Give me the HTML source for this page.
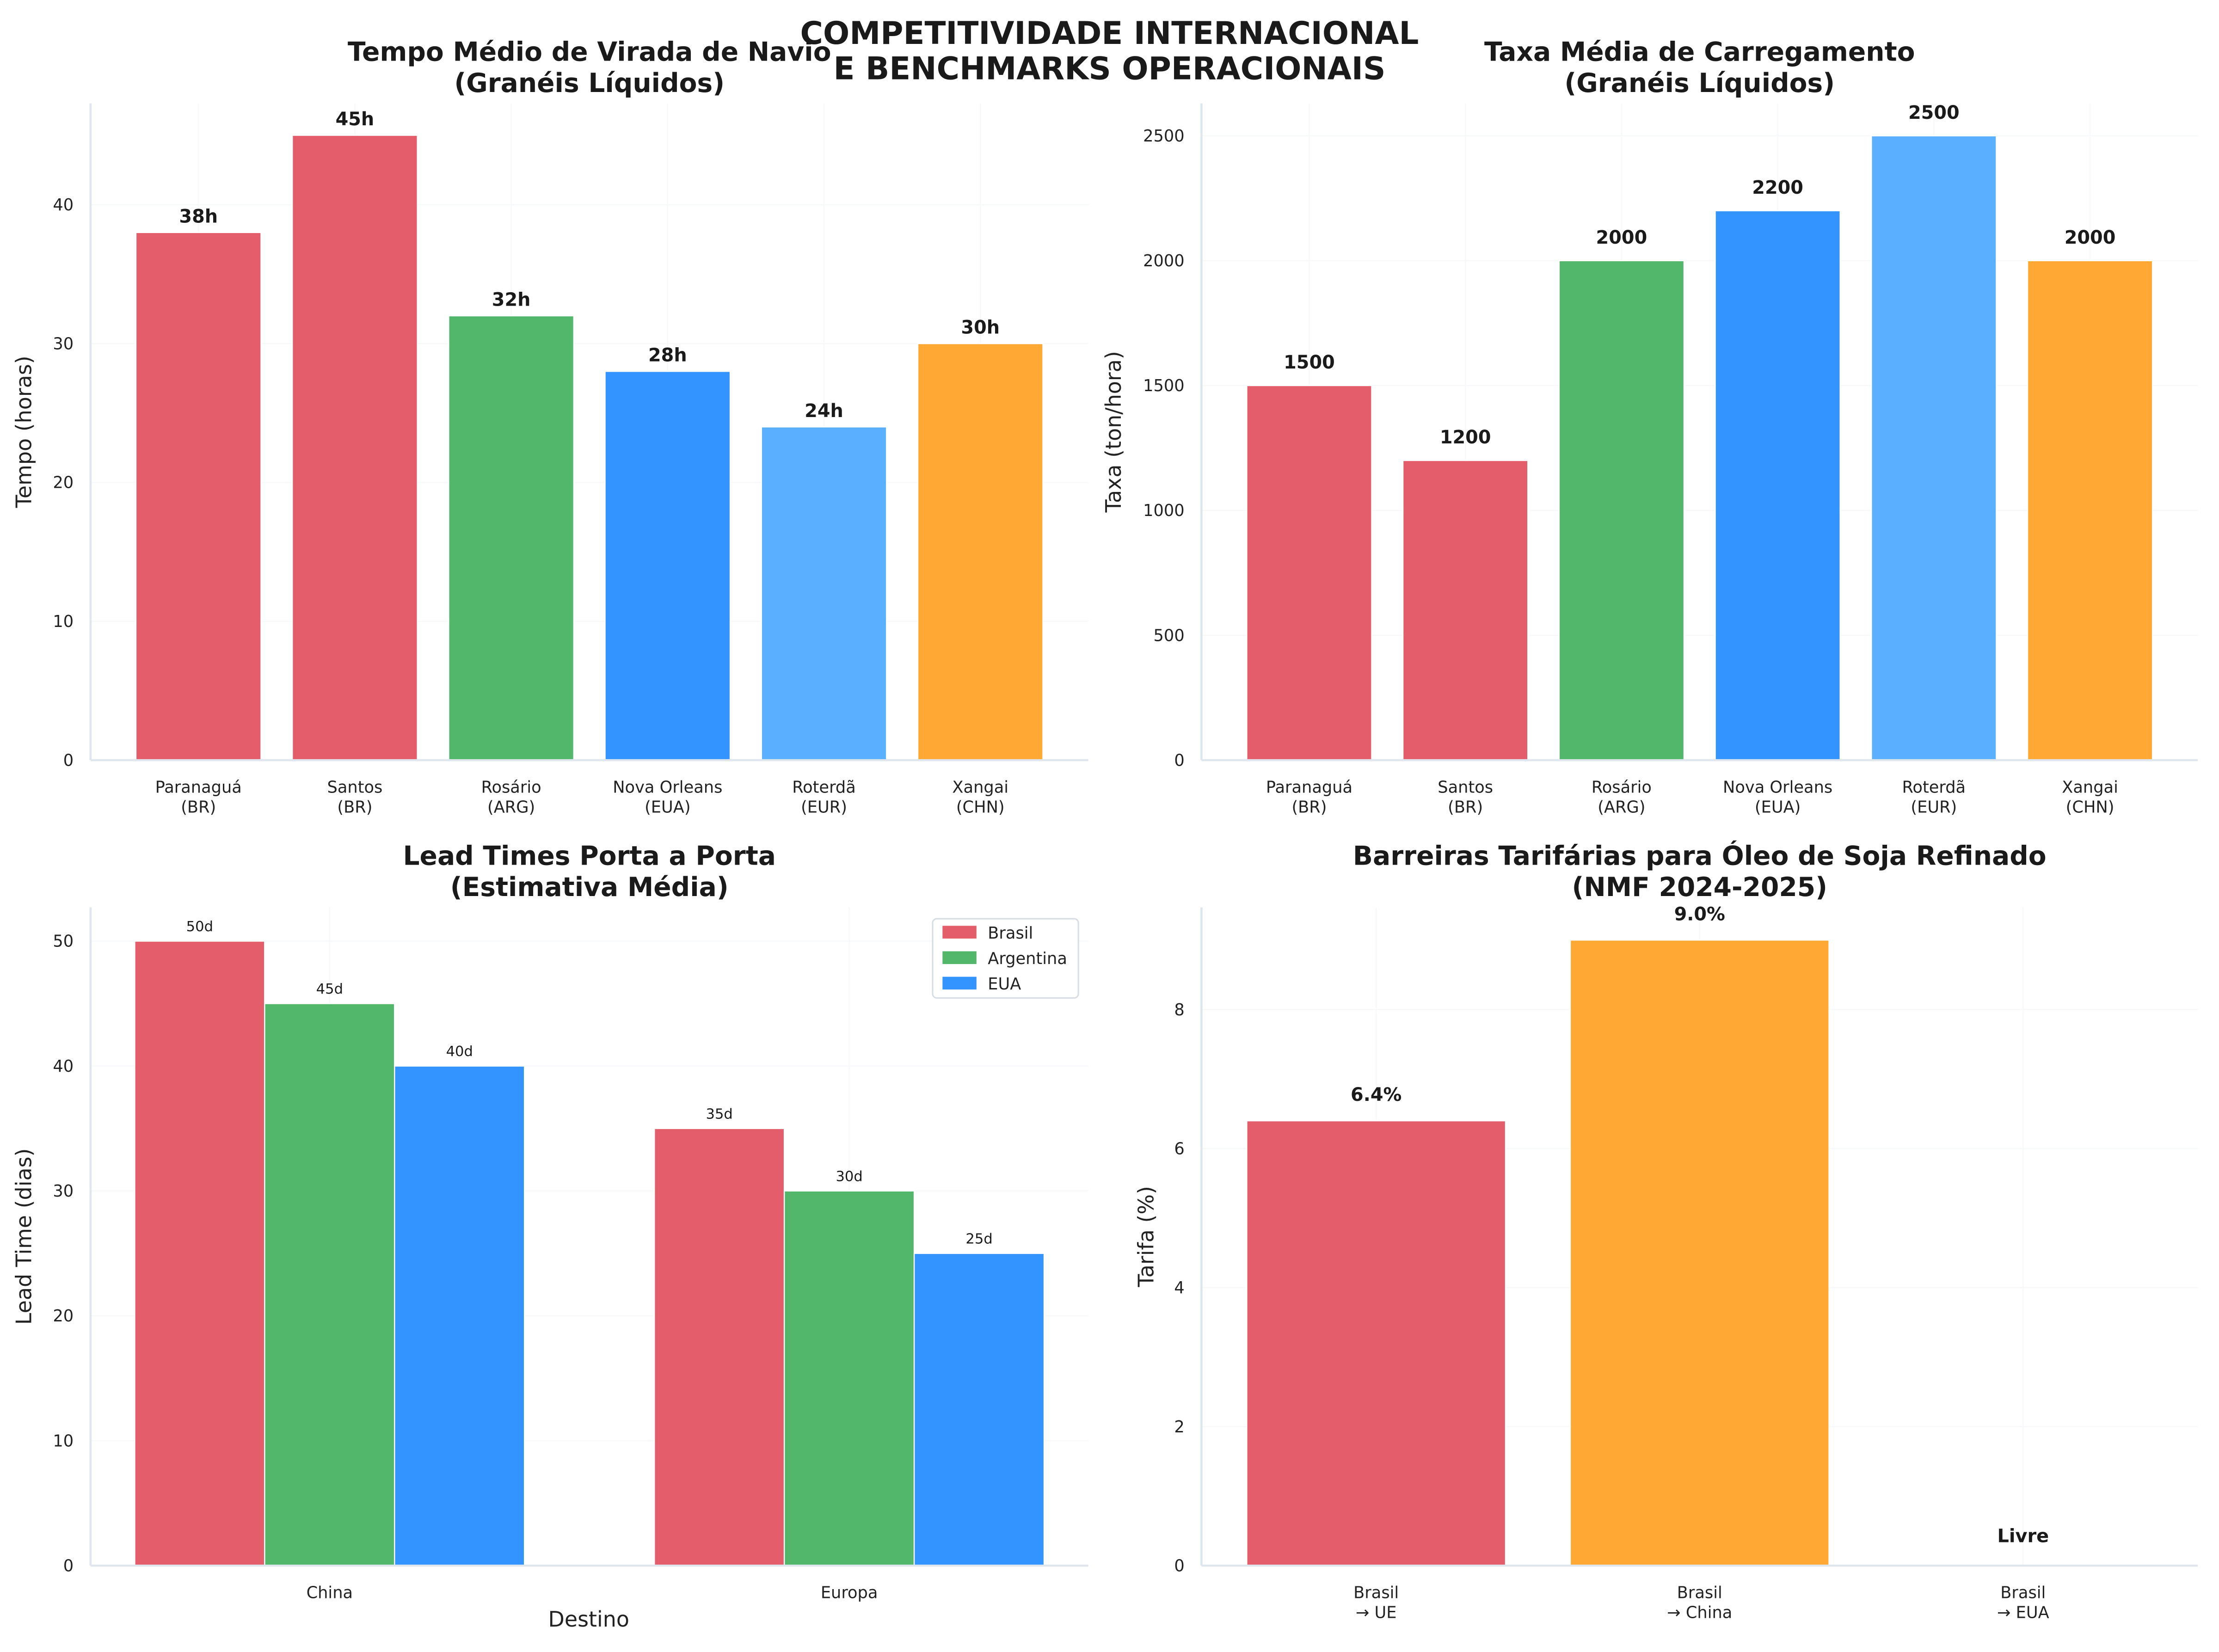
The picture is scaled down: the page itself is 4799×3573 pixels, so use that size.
<!DOCTYPE html>
<html><head><meta charset="utf-8"><style>
html,body{margin:0;padding:0;background:#fff;}
svg{display:block;font-family:"DejaVu Sans","Liberation Sans",sans-serif;}
</style></head><body>
<svg id="fig" width="4799" height="3573" viewBox="0 0 1568 1167" preserveAspectRatio="none" xmlns="http://www.w3.org/2000/svg">
<rect width="1568" height="1167" fill="#fff"/>
</svg>
<script>
// Chart 1: turnaround time
const portCats = ["Paranaguá\n(BR)","Santos\n(BR)","Rosário\n(ARG)","Nova Orleans\n(EUA)","Roterdã\n(EUR)","Xangai\n(CHN)"];
const turnaroundHours = [38,45,32,28,24,30];
const turnTicks = [0,10,20,30,40];
// Chart 2: loading rate
const loadingRate = [1500,1200,2000,2200,2500,2000];
const loadTicks = [0,500,1000,1500,2000,2500];
// Chart 3: lead times
const leadDest = ["China","Europa"];
const leadSeries = ["Brasil","Argentina","EUA"];
const leadBrasil = [50,35];
const leadArgentina = [45,30];
const leadEUA = [40,25];
const leadTicks = [0,10,20,30,40,50];
// Chart 4: tariffs
const tariffCats = ["Brasil\n→ UE","Brasil\n→ China","Brasil\n→ EUA"];
const tariffValues = [6.4,9.0,0];
const tariffTicks = [0,2,4,6,8];

const NS="http://www.w3.org/2000/svg";
const fig=document.getElementById('fig');
const RED="#e35d6a",GREEN="#52b76a",BLUE="#3393ff",LBLUE="#5aafff",ORANGE="#ffa833";
function el(tag,attrs,parent){const e=document.createElementNS(NS,tag);for(const k in attrs)e.setAttribute(k,attrs[k]);(parent||fig).appendChild(e);return e;}
function txt(s,attrs,parent){const e=el('text',attrs,parent);e.textContent=s;return e;}

function makeAxes(name,x0,x1,y0,y1,xmin,xmax,ymax,ticks,xCats,catPos,title,ylabel,yoff){
  const g=el('g',{});
  
  
  const sx=v=>x0+(v-xmin)/(xmax-xmin)*(x1-x0);
  const sy=v=>y1-v/ymax*(y1-y0);
  ticks.forEach(t=>{const l=el('line',{x1:x0,x2:x1,y1:sy(t),y2:sy(t),stroke:"#f7f8fa","stroke-width":0.8},g);
    });
  catPos.forEach(p=>{const l=el('line',{x1:sx(p),x2:sx(p),y1:y0,y2:y1,stroke:"#f7f8fa","stroke-width":0.8},g);
    });
  ticks.forEach(t=>{const e=txt(String(t),{x:x0-12,y:sy(t)+4,"text-anchor":"end","font-size":11.5,fill:"#222"},g);
    });
  xCats.forEach((c,i)=>{const lines=c.split("\n");lines.forEach((ln,j)=>{
    const e=txt(ln,{x:sx(catPos[i]),y:y1+23+j*14,"text-anchor":"middle","font-size":11.5,fill:"#222"},g);
    });});
  const tl=title.split("\n");
  tl.forEach((ln,j)=>{const e=txt(ln,{x:(x0+x1)/2,y:y0-30+j*22,"text-anchor":"middle","font-size":18.5,"font-weight":"bold",fill:"#1a1a1a"},g);
    });
  const yl=txt(ylabel,{x:0,y:0,"text-anchor":"middle","font-size":15,fill:"#222",transform:`translate(${x0-yoff},${(y0+y1)/2}) rotate(-90)`},g);
  
  return {g,sx,sy,x0,x1,y0,y1};
}
function spines(ax){
  const a=el('line',{x1:ax.x0,x2:ax.x0,y1:ax.y0,y2:ax.y1,stroke:"#dfe6ee","stroke-width":1.5},ax.g);
  
  const b=el('line',{x1:ax.x0,x2:ax.x1,y1:ax.y1,y2:ax.y1,stroke:"#dfe6ee","stroke-width":1.5},ax.g);
  
}
function bar(ax,cx,w,v,color,name){
  const x=ax.sx(cx-w/2),x2=ax.sx(cx+w/2),y=ax.sy(v);
  const r=el('rect',{x:x,y:y,width:x2-x,height:ax.y1-y,fill:color,stroke:"#fff","stroke-width":0.8},ax.g);
  
  
}
function label(ax,x,y,s,size,bold){
  const e=txt(s,{x:x,y:y,"text-anchor":"middle","font-size":size,"font-weight":bold?"bold":"normal",fill:"#1a1a1a"},ax.g);
  
  
}
const portColors=[RED,RED,GREEN,BLUE,LBLUE,ORANGE];
const idx6=portCats.map((_,i)=>i);

const a1=makeAxes('turnaround-chart',64,769,73,537,-0.69,5.69,47.3,turnTicks,portCats,idx6,"Tempo Médio de Virada de Navio\n(Granéis Líquidos)","Tempo (horas)",42);
turnaroundHours.forEach((v,i)=>{bar(a1,i,0.8,v,portColors[i],'bar-turnaround');label(a1,a1.sx(i),a1.sy(v)-7,v+"h",13,true);});
spines(a1);

const a2=makeAxes('loading-rate-chart',849,1553,73,537,-0.69,5.69,2630,loadTicks,portCats,idx6,"Taxa Média de Carregamento\n(Granéis Líquidos)","Taxa (ton/hora)",57);
loadingRate.forEach((v,i)=>{bar(a2,i,0.8,v,portColors[i],'bar-loading-rate');label(a2,a2.sx(i),a2.sy(v)-12,String(v),13,true);});
spines(a2);

const a3=makeAxes('lead-time-chart',64,769,641,1106,-0.46,1.46,52.7,leadTicks,leadDest,[0,1],"Lead Times Porta a Porta\n(Estimativa Média)","Lead Time (dias)",42);
const leadData=[leadBrasil,leadArgentina,leadEUA];const leadColors=[RED,GREEN,BLUE];
leadData.forEach((arr,s)=>arr.forEach((v,i)=>{const cx=i+(s-1)*0.25;bar(a3,cx,0.25,v,leadColors[s],'bar-lead-'+leadSeries[s].toLowerCase());label(a3,a3.sx(cx),a3.sy(v)-7,v+"d",10,false);}));
spines(a3);
const xt=txt("Destino",{x:416,y:1149,"text-anchor":"middle","font-size":15,fill:"#222"},a3.g);

const lg=el('g',{},a3.g);

el('rect',{x:659,y:649,width:103,height:56,rx:3,fill:"#fff",stroke:"#d8dde3","stroke-width":1},lg);
leadSeries.forEach((s,i)=>{
  const r=el('rect',{x:666,y:654+i*18,width:24,height:9,fill:leadColors[i]},lg);
  
  const t=txt(s,{x:698,y:663+i*18,"font-size":11.5,fill:"#222"},lg);
  
});

const a4=makeAxes('tariff-chart',849,1553,641,1106,-0.54,2.54,9.47,tariffTicks,tariffCats,[0,1,2],"Barreiras Tarifárias para Óleo de Soja Refinado\n(NMF 2024-2025)","Tarifa (%)",34);
tariffValues.forEach((v,i)=>{
  const c=[RED,ORANGE,GREEN][i];
  if(v>0){bar(a4,i,0.8,v,c,'bar-tariff');label(a4,a4.sx(i),a4.sy(v)-14,v.toFixed(1)+"%",13,true);}
  else{label(a4,a4.sx(i),a4.sy(0.4)+3,"Livre",13,true);}
});
spines(a4);

// Suptitle drawn last (on top, as in reference)
const s1=txt("COMPETITIVIDADE INTERNACIONAL",{x:784,y:31,"text-anchor":"middle","font-size":22,"font-weight":"bold",fill:"#1a1a1a"});


const s2=txt("E BENCHMARKS OPERACIONAIS",{x:784,y:56,"text-anchor":"middle","font-size":22,"font-weight":"bold",fill:"#1a1a1a"});


</script>
</body></html>
